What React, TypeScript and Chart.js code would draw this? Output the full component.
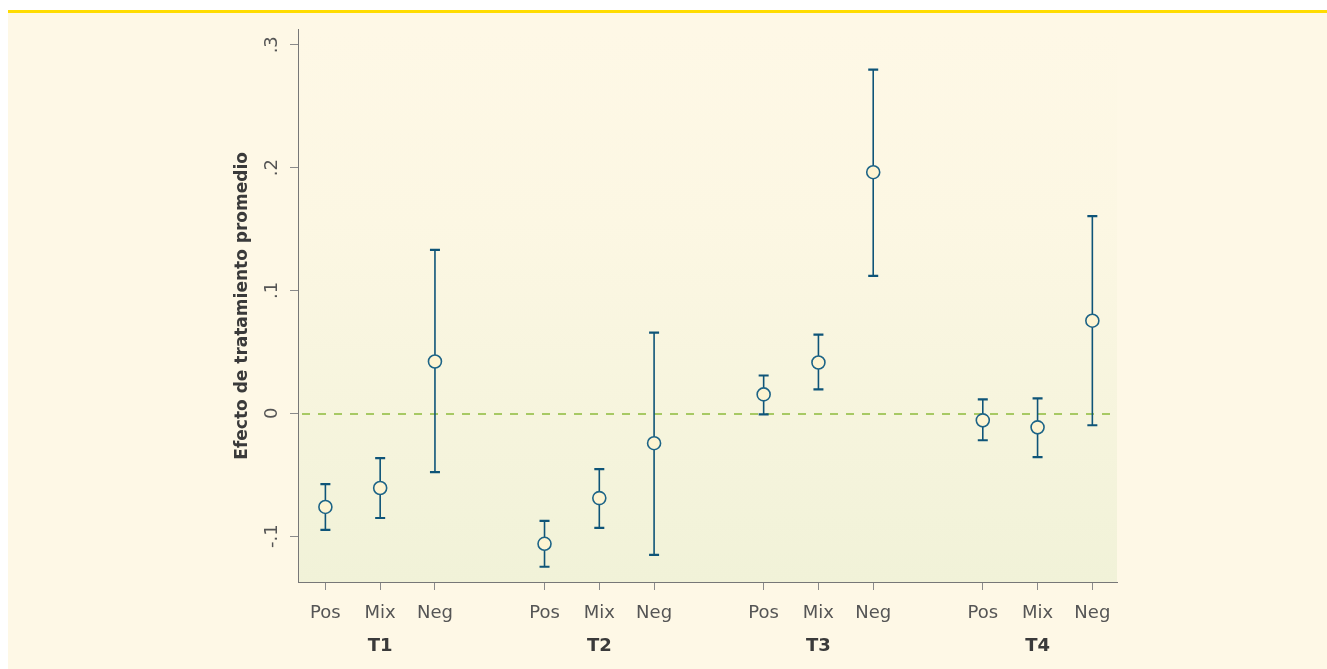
import React, { useEffect, useRef } from "react";
import { Chart, registerables } from "chart.js";

Chart.register(...registerables);

const groups = ["T1", "T2", "T3", "T4"];
const groupCenters = [2, 6, 10, 14];
const categories = ["Pos", "Mix", "Neg"];
const positions = [1, 2, 3, 5, 6, 7, 9, 10, 11, 13, 14, 15];
const estimates = [-0.0762, -0.0608, 0.0422, -0.1062, -0.069, -0.0243, 0.0154, 0.0414, 0.1963, -0.0057, -0.0114, 0.0754];
const upper = [-0.0576, -0.0365, 0.133, -0.0876, -0.0454, 0.0657, 0.0308, 0.0641, 0.2798, 0.0114, 0.0122, 0.1606];
const lower = [-0.0949, -0.0852, -0.0479, -0.1249, -0.0933, -0.1152, -0.0008, 0.0195, 0.1119, -0.0219, -0.0357, -0.0097];
const yTicks = [-0.1, 0, 0.1, 0.2, 0.3];
const yTickLabels = ["-.1", "0", ".1", ".2", ".3"];
const yTitle = "Efecto de tratamiento promedio";

const FONT = "'DejaVu Sans', 'Open Sans', sans-serif";

export default function App() {
  const ref = useRef<HTMLCanvasElement>(null);

  useEffect(() => {
    if (!ref.current) return;

    const bgPlugin = {
      id: "bgPlugin",
      beforeDraw(chart: any) {
        const { ctx, chartArea } = chart;
        const g = ctx.createLinearGradient(0, chartArea.top, 0, chartArea.bottom);
        g.addColorStop(0, "#FEF8E6");
        g.addColorStop(0.35, "#FCF7E3");
        g.addColorStop(1, "#F1F2D8");
        ctx.save();
        ctx.fillStyle = g;
        ctx.fillRect(chartArea.left, chartArea.top, chartArea.right - chartArea.left, chartArea.bottom - chartArea.top);
        ctx.restore();
      },
      beforeDatasetsDraw(chart: any) {
        const { ctx, chartArea } = chart;
        const xs = chart.scales.x;
        const ys = chart.scales.y;
        ctx.save();
        const y0 = Math.round(ys.getPixelForValue(0)) + 1;
        ctx.strokeStyle = "#8DBB3C";
        ctx.lineWidth = 1.5;
        ctx.setLineDash([8, 8]);
        ctx.beginPath();
        ctx.moveTo(chartArea.left + 4, y0);
        ctx.lineTo(chartArea.right, y0);
        ctx.stroke();
        ctx.setLineDash([]);
        ctx.strokeStyle = "#0E5478";
        for (let i = 0; i < positions.length; i++) {
          const x = xs.getPixelForValue(positions[i]);
          const yu = ys.getPixelForValue(upper[i]);
          const yl = ys.getPixelForValue(lower[i]);
          ctx.lineWidth = 1.6;
          ctx.beginPath();
          ctx.moveTo(x, yu);
          ctx.lineTo(x, yl);
          ctx.stroke();
          ctx.lineWidth = 2.2;
          ctx.beginPath();
          ctx.moveTo(x - 5, yu);
          ctx.lineTo(x + 5, yu);
          ctx.moveTo(x - 5, yl);
          ctx.lineTo(x + 5, yl);
          ctx.stroke();
        }
        ctx.restore();
      },
      afterDraw(chart: any) {
        const { ctx } = chart;
        const xs = chart.scales.x;
        ctx.save();
        ctx.fillStyle = "#3A3A3A";
        ctx.font = `bold 18px ${FONT}`;
        ctx.textAlign = "center";
        ctx.textBaseline = "middle";
        groups.forEach((g, i) => {
          ctx.fillText(g, xs.getPixelForValue(groupCenters[i]), xs.top + 64);
        });
        ctx.restore();
      },
    };

    const chart = new Chart(ref.current, {
      type: "scatter",
      data: {
        datasets: [
          {
            data: positions.map((p, i) => ({ x: p, y: estimates[i] })),
            pointRadius: 6.5,
            pointHoverRadius: 6.5,
            pointBorderWidth: 1.6,
            pointBackgroundColor: "#FEF4D2",
            pointBorderColor: "#1D6487",
          },
        ],
      },
      options: {
        animation: false,
        responsive: false,
        maintainAspectRatio: false,
        layout: { padding: { left: 220, right: 210, top: 7, bottom: 27 } },
        plugins: { legend: { display: false }, tooltip: { enabled: false } },
        scales: {
          x: {
            type: "linear",
            min: 0.5,
            max: 15.45,
            afterBuildTicks: (scale: any) => {
              scale.ticks = positions.map((v) => ({ value: v }));
            },
            afterFit: (scale: any) => {
              scale.height = 60;
            },
            grid: { drawOnChartArea: false, drawTicks: true, tickLength: 8, color: "#8A8A8A", lineWidth: 1 },
            border: { display: true, color: "#777777", width: 1 },
            ticks: {
              padding: 13,
              color: "#555555",
              font: { family: FONT, size: 18 },
              maxRotation: 0,
              minRotation: 0,
              autoSkip: false,
              callback: (v: any) => {
                const idx = positions.indexOf(Number(v));
                return idx >= 0 ? categories[idx % 3] : "";
              },
            },
          },
          y: {
            type: "linear",
            min: -0.1373,
            max: 0.3122,
            afterBuildTicks: (scale: any) => {
              scale.ticks = yTicks.map((v) => ({ value: v }));
            },
            afterFit: (scale: any) => {
              scale.width = 70;
            },
            grid: { drawOnChartArea: false, drawTicks: true, tickLength: 8, color: "#8A8A8A", lineWidth: 1 },
            border: { display: true, color: "#777777", width: 1 },
            title: {
              display: true,
              text: yTitle,
              color: "#3A3A3A",
              font: { family: FONT, size: 17, weight: "bold" },
              padding: { top: 4, bottom: 4 },
            },
            ticks: {
              padding: 6,
              color: "#555555",
              font: { family: FONT, size: 18 },
              minRotation: 90,
              maxRotation: 90,
              crossAlign: "center",
              autoSkip: false,
              callback: (v: any) => {
                const idx = yTicks.findIndex((t) => Math.abs(t - Number(v)) < 1e-9);
                return idx >= 0 ? yTickLabels[idx] : "";
              },
            },
          },
        },
      },
      plugins: [bgPlugin],
    } as any);

    return () => chart.destroy();
  }, []);

  return (
    <div
      style={{
        position: "fixed",
        left: 8,
        top: 10,
        width: 1319,
        height: 659,
        background: "#FEF8E6",
        borderTop: "3px solid #FFDC00",
        boxSizing: "border-box",
      }}
    >
      <canvas ref={ref} width={1319} height={656} style={{ display: "block" }} />
    </div>
  );
}
